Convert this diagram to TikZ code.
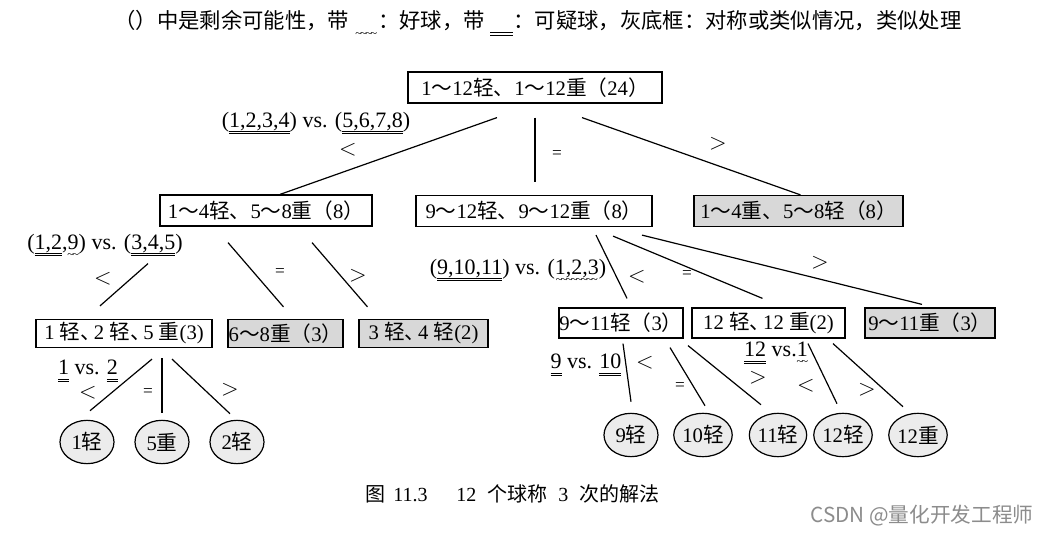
\documentclass[tikz,border=0pt]{standalone}
\usepackage{fontspec}
\setmainfont{Liberation Serif}
\newfontfamily\cjk{Noto Sans CJK SC}
\usetikzlibrary{calc,shapes.geometric}
\newcommand\zh[1]{{\cjk #1}}
\newcommand\zt{\zh{～}}
\newcommand\dun{\zh{、}\kern-0.35em}
\newcommand\boxfont{\fontsize{15.5}{18}\selectfont}
\newcommand\labfont{\fontsize{16.5}{19}\selectfont}
\newcommand\relfont{\fontsize{19}{20}\selectfont}
\newcommand\eqfont{\fontsize{13}{14}\selectfont}
\definecolor{boxgray}{RGB}{216,216,216}
\definecolor{ballgray}{RGB}{236,236,236}
\definecolor{wmgray}{RGB}{140,140,140}
\newsavebox\ulbox
\newcommand\dul[1]{\sbox\ulbox{#1}\rlap{\copy\ulbox}\lower5.2pt\hbox{\vbox{\hrule width\wd\ulbox height0.55pt\kern1.3pt\hrule width\wd\ulbox height0.55pt}}}
\newcommand\wul[1]{\sbox\ulbox{#1}\rlap{\copy\ulbox}\lower6.6pt\hbox to\wd\ulbox{\fontsize{9}{9}\selectfont\cleaders\hbox{\kern-.06em\char"7E\kern-.06em}\hfill}}
\newcommand\gap{\hbox to 1.1em{\hfil}}
\begin{document}
\begin{tikzpicture}[x=0.75pt,y=-0.75pt,
  box/.style={draw,line width=0.9pt,inner sep=0pt,font=\boxfont},
  graybox/.style={box,fill=boxgray},
  ball/.style={draw,line width=0.9pt,ellipse,minimum width=40.5pt,minimum height=32.5pt,inner sep=0pt,fill=ballgray,font=\boxfont},
  conn/.style={line width=0.9pt},
  lab/.style={font=\labfont,inner sep=0pt},
  rel/.style={font=\relfont,inner sep=0pt},
  eqs/.style={font=\eqfont,inner sep=0pt},
  capt/.style={font=\fontsize{15}{17}\selectfont,inner sep=0pt,anchor=west}]
\fill[white] (0,0) rectangle (1042,534);
\useasboundingbox (0,0) rectangle (1042,534);

% header
\node[font=\fontsize{16}{18}\selectfont,inner sep=0pt] (head) at (538,24)
  {\zh{（）中是剩余可能性，带} \wul{\gap}\zh{：好球，带} \dul{\gap}\zh{：可疑球，灰底框：对称或类似情况，类似处理}};

% level 1
\node[box,minimum width=190.5pt,minimum height=23.25pt] (root) at (535,87.5)
  {1\zt12\zh{轻、}1\zt12\zh{重（}24\zh{）}};

% level 2
\node[box,minimum width=159pt,minimum height=23.25pt] (A) at (266,210.5)
  {1\zt4\zh{轻、}5\zt8\zh{重（}8\zh{）}};
\node[box,minimum width=177pt,minimum height=23.25pt] (B) at (534,211)
  {9\zt12\zh{轻、}9\zt12\zh{重（}8\zh{）}};
\node[graybox,minimum width=156.75pt,minimum height=23.25pt] (C) at (798.5,211)
  {1\zt4\zh{重、}5\zt8\zh{轻（}8\zh{）}};

% level 3
\node[box,minimum width=132pt,minimum height=21pt] (D) at (124,333.5)
  {1 \zh{轻}\dun 2 \zh{轻}\dun 5 \zh{重}(3)};
\node[graybox,minimum width=86.25pt,minimum height=21pt] (E) at (285.5,333.5)
  {6\zt8\zh{重（}3\zh{）}};
\node[graybox,minimum width=96.75pt,minimum height=21pt] (F) at (423.5,333.5)
  {3 \zh{轻}\dun 4 \zh{轻}(2)};
\node[box,minimum width=93pt,minimum height=22.5pt] (G) at (621,323)
  {9\zt11\zh{轻（}3\zh{）}};
\node[box,minimum width=114.75pt,minimum height=22.5pt] (H) at (768.5,323)
  {12 \zh{轻}\dun 12 \zh{重}(2)};
\node[graybox,minimum width=97.5pt,minimum height=22.5pt] (I) at (930,323)
  {9\zt11\zh{重（}3\zh{）}};

% balls
\node[ball] (c1) at (87,442) {1\zh{轻}};
\node[ball] (c5) at (162,442) {5\zh{重}};
\node[ball] (c2) at (237,442) {2\zh{轻}};
\node[ball] (c9) at (631,435) {9\zh{轻}};
\node[ball] (c10) at (703,435) {10\zh{轻}};
\node[ball] (c11) at (778,435) {11\zh{轻}};
\node[ball] (c12l) at (843,435) {12\zh{轻}};
\node[ball] (c12h) at (918,435) {12\zh{重}};

% connectors level 1 -> 2
\draw[conn] ($(root.south)+(-38,14)$) -- ($(A.north)+(14,0)$);
\draw[conn] ($(root.south)+(0,14)$) -- ($(B.north)+(1,-13)$);
\draw[conn] ($(root.south)+(47,14)$) -- ($(C.north)+(2,0)$);

% A -> level 3
\draw[conn] ($(A.south)+(-118,37)$) -- ($(D.north)+(-24,-13)$);
\draw[conn] ($(A.south)+(-38,16)$) -- ($(E.north)+(-2,-12)$);
\draw[conn] ($(A.south)+(46,16)$) -- ($(F.north)+(-56,-12)$);

% B -> level 3
\draw[conn] ($(B.south)+(62,8)$) -- ($(G.north)+(6,-9)$);
\draw[conn] ($(B.south)+(79,9)$) -- ($(H.north)+(-6,-9)$);
\draw[conn] ($(B.south)+(108,8)$) -- ($(I.north)+(-8,-3)$);

% D -> balls
\draw[conn] ($(D.south)+(28,11)$) -- ($(c1.north)+(3,-9)$);
\draw[conn] ($(D.south)+(38,10)$) -- ($(c5.north)+(0,-7)$);
\draw[conn] ($(D.south)+(48,11)$) -- ($(c2.north)+(-7,-6)$);

% G, H -> balls
\draw[conn] ($(G.south)+(2,5)$) -- ($(c9.north)+(0,-11)$);
\draw[conn] ($(G.south)+(49,9)$) -- ($(c10.north)+(2,-7)$);
\draw[conn] ($(G.south)+(67,7)$) -- ($(c11.north)+(-17,-8)$);
\draw[conn] ($(H.south)+(39.5,5)$) -- ($(c12l.north)+(-6,-9)$);
\draw[conn] ($(H.south)+(64.5,5)$) -- ($(c12h.north)+(-15,-6)$);

% weighing labels
\node[lab] (w1) at (316,123) {(\dul{1,2,3,4}) vs. (\dul{5,6,7,8})};
\node[rel] (r1l) at (348,150) {$<$};
\node[eqs] (r1e) at (557,155) {=};
\node[rel] (r1g) at (718,144) {$>$};

\node[lab] (w2) at (105,246) {(\dul{1,2},\wul{9}) vs. (\dul{3,4,5})};
\node[rel] (r2l) at (103,279) {$<$};
\node[eqs] (r2e) at (280,273) {=};
\node[rel] (r2g) at (358,276) {$>$};

\node[lab] (w3) at (518,271) {(\dul{9,10,11}) vs. (\wul{1,2,3})};
\node[rel] (r3l) at (637,277) {$<$};
\node[eqs] (r3e) at (687,275) {=};
\node[rel] (r3g) at (820,263) {$>$};

\node[lab] (w4) at (88,371) {\dul{1} vs. \dul{2}};
\node[rel] (r4l) at (88,393) {$<$};
\node[eqs] (r4e) at (148,393) {=};
\node[rel] (r4g) at (230,390) {$>$};

\node[lab] (w5) at (586,365) {\dul{9} vs. \dul{10}};
\node[rel] (r5l) at (645,363) {$<$};
\node[eqs] (r5e) at (680,387) {=};
\node[rel] (r5g) at (758,378) {$>$};

\node[lab] (w6) at (776,354) {\dul{12} vs.\wul{1}};
\node[rel] (r6l) at (806,386) {$<$};
\node[rel] (r6g) at (867,390) {$>$};

% caption
\node[capt] (cap1) at (365,494) {\zh{图}\hspace{0.4em}11.3};
\node[capt] (cap2) at (456,494) {12\hspace{0.55em}\zh{个球称}\hspace{0.55em}3\hspace{0.55em}\zh{次的解法}};

% watermark
\node[font=\cjk\fontsize{15.5}{18}\selectfont,text=wmgray,inner sep=0pt] (wm) at (922,516) {CSDN @量化开发工程师};
\end{tikzpicture}
\end{document}
